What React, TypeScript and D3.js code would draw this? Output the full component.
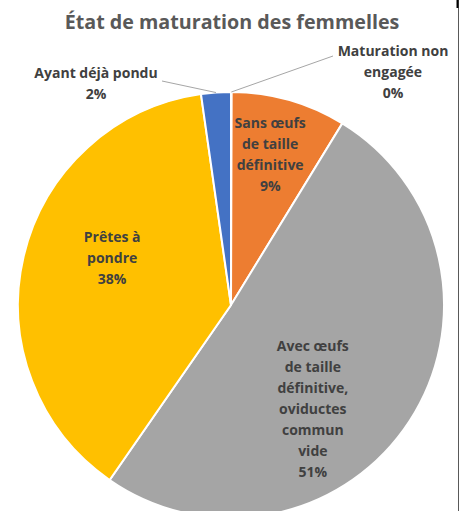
import React from "react";
import * as d3 from "d3";

const categories = [
  "Maturation non engagée",
  "Sans œufs de taille définitive",
  "Avec œufs de taille définitive, oviductes commun vide",
  "Prêtes à pondre",
  "Ayant déjà pondu",
];
const values = [0.05, 8.7, 50.9, 38.1, 2.25];
const pctLabels = ["0%", "9%", "51%", "38%", "2%"];
const labelLines = [
  ["Maturation non", "engagée"],
  ["Sans œufs", "de taille", "définitive"],
  ["Avec œufs", "de taille", "définitive,", "oviductes", "commun", "vide"],
  ["Prêtes à", "pondre"],
  ["Ayant déjà pondu"],
];
const colors = ["#5B9BD5", "#ED7D31", "#A5A5A5", "#FFC000", "#4472C4"];

// layout (not data)
const W = 467, H = 511;
const cx = 231, cy = 305, R = 213;
const lineH = 21;
const labelLayout: any[] = [
  { outside: true, x: 393, y: 72, lx: 333, ly: 56 },
  { angle: 14.6, frac: 0.73 },
  { angle: 141.7, frac: 0.62 },
  { angle: 291.6, frac: 0.6 },
  { outside: true, x: 96, y: 83, lx: 162, ly: 81 },
];

export default function App() {
  const pie = d3.pie<number>().sort(null).value((d) => d);
  const arcs = pie(values);
  const arc = d3.arc<any>().innerRadius(0).outerRadius(R);
  const font = "'Open Sans', Lato, sans-serif";

  return (
    <svg width={W} height={H} style={{ position: "absolute", left: 0, top: 0, background: "#fff" }}>
      <text x={232} y={29} textAnchor="middle" fontFamily={font} fontWeight="bold" fontSize={19.7} fill="#595959">
        État de maturation des femmelles
      </text>
      <g transform={`translate(${cx},${cy})`}>
        {arcs.map((a, i) => (
          <path key={i} d={arc(a) as string} fill={colors[i]} stroke="#fff" strokeWidth={a.data < 0.5 ? 0 : 2} />
        ))}
      </g>
      {arcs.map((a, i) => {
        const L = labelLayout[i];
        const lines = [...labelLines[i], pctLabels[i]];
        let x: number, y: number;
        if (L.outside) {
          x = L.x; y = L.y;
        } else {
          const t = (L.angle * Math.PI) / 180;
          const r = L.frac * R;
          x = cx + r * Math.sin(t);
          y = cy - r * Math.cos(t);
        }
        const y0 = y - ((lines.length - 1) * lineH) / 2 + 5;
        const mid = (a.startAngle + a.endAngle) / 2;
        const ex = cx + R * Math.sin(mid);
        const ey = cy - R * Math.cos(mid);
        return (
          <g key={i}>
            {L.outside && (
              <line x1={L.lx} y1={L.ly} x2={ex} y2={ey} stroke="#A6A6A6" strokeWidth={1} />
            )}
            <text textAnchor="middle" fontFamily={font} fontWeight="bold" fontSize={14} fill="#404040">
              {lines.map((s, k) => (
                <tspan key={k} x={x} y={y0 + k * lineH}>{s}</tspan>
              ))}
            </text>
          </g>
        );
      })}
      <line x1={458.5} y1={0} x2={458.5} y2={H} stroke="#595959" strokeWidth={1} />
      <line x1={457.5} y1={0} x2={457.5} y2={8} stroke="#000" strokeWidth={2} />
    </svg>
  );
}
